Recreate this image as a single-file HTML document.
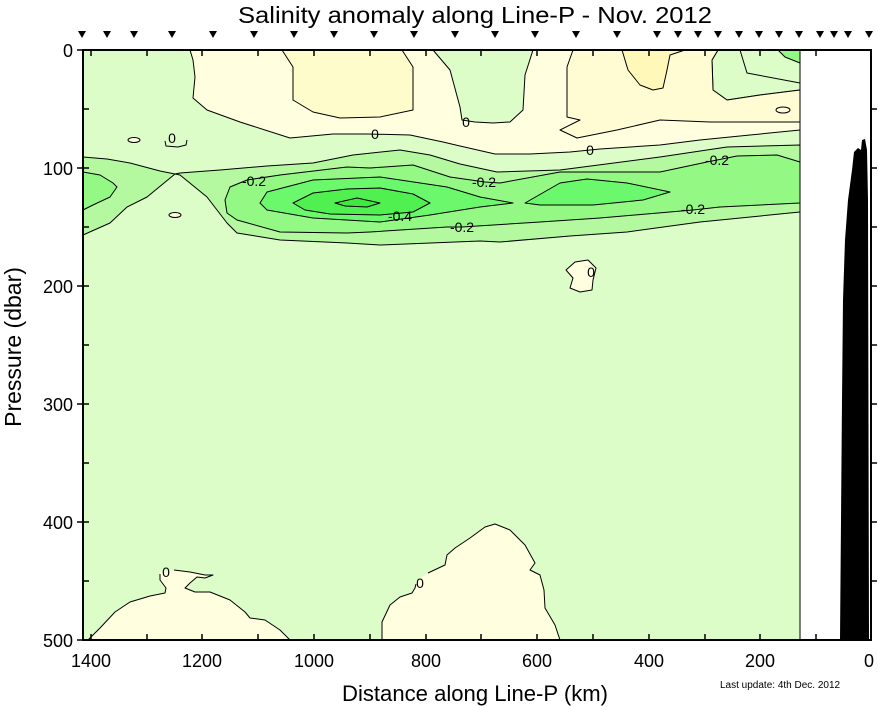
<!DOCTYPE html>
<html><head><meta charset="utf-8"><style>
body{margin:0;background:#fff}
svg{display:block}
text{font-family:"Liberation Sans",sans-serif}
</style></head><body>
<svg width="878" height="708" viewBox="0 0 878 708" xmlns="http://www.w3.org/2000/svg">
<rect width="878" height="708" fill="#fff"/>
<rect x="83" y="50" width="717" height="590" fill="#dcfcc8"/>
<g stroke="#000" stroke-width="1" stroke-linejoin="round">
<path fill="#ffffe0" d="M190,50 L433,50 L450,70 L460,107 L462,120 L475,122 L493,123 L510,122 L523,110 L525,75 L533,50 L718,50 L712,60 L713,90 L727,100 L760,95 L800,90 L800,130 L750,135 L700,140 L660,145 L600,149 L570,152 L530,154 L495,154 L460,146 L443,142 L410,135 L368,134 L333,134 L290,138 L240,122 L207,110 L193,98 L195,77 L193,60 Z"/>
<path fill="#fffccc" d="M282,50 L293,67 L293,100 L313,112 L340,118 L380,117 L413,110 L413,67 L402,50 Z"/>
<path fill="#fffcd4" d="M573,50 L567,67 L567,117 L580,120 L560,130 L577,138 L617,130 L660,120 L710,122 L800,122 L800,90 L760,95 L727,100 L713,90 L712,60 L718,50 Z"/>
<path fill="#fff8b8" d="M622,50 L628,70 L640,85 L653,90 L663,88 L667,70 L670,55 L685,50 Z"/>
<path fill="none" d="M740,50 L747,73 L800,83"/>
<path fill="#94f884" d="M778,50 L785,57 L800,63 L800,50 Z"/>
<path fill="#b4f8a0" d="M83,157 L107,159 L130,163 L160,171 L175,174 L180,173 L220,170 L267,166 L313,163 L353,155 L400,150 L430,155 L460,164 L497,172 L560,170 L660,157 L727,147 L800,145 L800,212 L700,222 L627,232 L570,236 L500,242 L480,241 L380,245 L347,243 L280,240 L237,233 L227,223 L207,197 L180,175 L175,174 L147,197 L127,207 L110,223 L83,235 Z"/>
<path fill="#94f884" d="M83,172 L100,175 L113,183 L117,187 L110,197 L93,205 L83,210 Z"/>
<path fill="#94f884" d="M230,187 L247,180 L280,175 L347,167 L370,168 L413,165 L450,177 L485,182 L500,183 L560,172 L660,172 L707,162 L737,156 L777,155 L800,162 L800,203 L720,207 L693,210 L600,218 L540,222 L462,227 L447,227 L370,232 L347,233 L280,232 L237,220 L227,213 L225,200 Z"/>
<path fill="#6cf86c" d="M260,203 L267,192 L313,180 L380,177 L447,187 L480,197 L513,203 L480,207 L430,215 L380,222 L313,218 L267,210 Z"/>
<path fill="#6cf86c" d="M525,203 L560,183 L587,179 L627,183 L670,192 L643,200 L593,205 L540,205 Z"/>
<path fill="#50f050" d="M293,203 L313,193 L347,189 L380,188 L413,194 L430,203 L413,212 L380,215 L330,214 L305,210 Z"/>
<path fill="#40e840" d="M335,203 L357,198 L380,203 L367,207 L345,206 Z"/>
<ellipse cx="134" cy="140" rx="6" ry="2.5" fill="#ffffe0"/>
<path fill="none" d="M165,141 L166,146 L178,147 L186,145 L187,140"/>
<ellipse cx="175" cy="215" rx="6" ry="2.5" fill="#ffffe0"/>
<ellipse cx="783" cy="110" rx="7" ry="3" fill="#ffffe0"/>
<path fill="#ffffe0" d="M575,262 L588,260 L596,268 L593,280 L592,290 L580,292 L570,288 L573,278 L566,270 Z"/>
<!-- bottom positive -->
<path fill="#ffffe0" stroke="none" d="M88,640 L100,628 L115,612 L130,602 L150,596 L165,593 L166,588 L160,580 L160,572 L175,570 L190,572 L205,575 L213,575 L205,578 L197,577 L190,583 L185,588 L195,592 L210,592 L230,600 L245,612 L250,618 L265,620 L280,630 L290,640 Z"/>
<path fill="none" d="M88,640 L100,628 L115,612 L130,602 L150,596 L165,593 L166,588 L160,580 L160,574"/>
<path fill="none" d="M174,570 L190,572 L205,575 L213,575 L205,578 L197,577 L190,583 L185,588 L195,592 L210,592 L230,600 L245,612 L250,618 L265,620 L280,630 L290,640"/>
<path fill="#ffffe0" stroke="none" d="M382,640 L382,622 L390,605 L400,597 L412,593 L417,580 L428,573 L445,565 L447,555 L455,548 L470,538 L485,527 L495,524 L510,530 L525,545 L535,563 L530,570 L540,575 L544,590 L545,608 L555,625 L560,640 Z"/>
<path fill="none" d="M382,640 L382,622 L390,605 L400,597 L412,593 L415,588 L416,584"/>
<path fill="none" d="M428,573 L445,565 L447,555 L455,548 L470,538 L485,527 L495,524 L510,530 L525,545 L535,563 L530,570 L540,575 L544,590 L545,608 L555,625 L560,640"/>
</g>
<g font-size="14" fill="#000" text-anchor="middle">
<text x="172" y="143">0</text>
<text x="375" y="139">0</text>
<text x="466" y="127">0</text>
<text x="590" y="155">0</text>
<text x="254" y="186">-0.2</text>
<text x="484" y="187">-0.2</text>
<text x="717" y="165">-0.2</text>
<text x="400" y="221">-0.4</text>
<text x="462" y="232">-0.2</text>
<text x="693" y="214">-0.2</text>
<text x="166" y="577">0</text>
<text x="420" y="588">0</text>
<text x="591" y="277">0</text>
</g>
<path fill="#000" d="M840,640 L842,400 L843,300 L845,240 L848,200 L852,170 L854,152 L858,148 L861,150 L862,140 L865,139 L867,150 L868,200 L869,640 Z"/>
<line x1="800" y1="50" x2="800" y2="640" stroke="#000" stroke-width="1"/>
<g stroke="#000" stroke-width="2" fill="none">
<line x1="83" y1="50" x2="83" y2="641"/>
<line x1="82" y1="640" x2="872" y2="640"/>
<line x1="82" y1="50" x2="872" y2="50"/>
<line x1="871" y1="50" x2="871" y2="641"/>
</g>
<g stroke="#000" stroke-width="1.5">
<path d="M91,640v-6M147,640v-6M202,640v-6M258,640v-6M314,640v-6M370,640v-6M426,640v-6M481,640v-6M537,640v-6M593,640v-6M649,640v-6M705,640v-6M760,640v-6M816,640v-6M871,640v-6"/>
<path d="M91,50v6M147,50v6M202,50v6M258,50v6M314,50v6M370,50v6M426,50v6M481,50v6M537,50v6M593,50v6M649,50v6M705,50v6M760,50v6M816,50v6"/>
<path d="M77,50h6M77,168h6M77,286h6M77,404h6M77,522h6M77,640h6"/>
<path d="M83,109h6M83,168h6M83,227h6M83,286h6M83,345h6M83,404h6M83,463h6M83,522h6M83,581h6"/>
<path d="M871,109h6M871,168h6M871,227h6M871,286h6M871,345h6M871,404h6M871,463h6M871,522h6M871,581h6"/>
</g>
<g fill="#000">
<path id="t" d="M78,31 L86,31 L82,38 Z"/>
<use href="#t" x="25"/><use href="#t" x="52"/><use href="#t" x="90"/><use href="#t" x="131"/><use href="#t" x="172"/><use href="#t" x="212"/><use href="#t" x="252"/><use href="#t" x="292"/><use href="#t" x="332"/><use href="#t" x="373"/><use href="#t" x="413"/><use href="#t" x="453"/><use href="#t" x="494"/><use href="#t" x="535"/><use href="#t" x="575"/><use href="#t" x="596"/><use href="#t" x="616"/><use href="#t" x="636"/><use href="#t" x="657"/><use href="#t" x="677"/><use href="#t" x="697"/><use href="#t" x="717"/><use href="#t" x="738"/><use href="#t" x="752"/><use href="#t" x="766"/><use href="#t" x="787"/>
</g>
<g font-size="18" fill="#000" text-anchor="middle">
<text x="91" y="667">1400</text><text x="202" y="667">1200</text><text x="314" y="667">1000</text>
<text x="426" y="667">800</text><text x="537" y="667">600</text><text x="649" y="667">400</text>
<text x="760" y="667">200</text><text x="869" y="667">0</text>
</g>
<g font-size="18" fill="#000" text-anchor="end">
<text x="73" y="57">0</text><text x="73" y="175">100</text><text x="73" y="293">200</text>
<text x="73" y="411">300</text><text x="73" y="529">400</text><text x="73" y="647">500</text>
</g>
<text x="238" y="23" font-size="23" textLength="474" lengthAdjust="spacingAndGlyphs">Salinity anomaly along Line-P - Nov.  2012</text>
<text x="342" y="701" font-size="22" textLength="266" lengthAdjust="spacingAndGlyphs">Distance along Line-P (km)</text>
<text transform="translate(21,347) rotate(-90)" font-size="23" text-anchor="middle">Pressure (dbar)</text>
<text x="720" y="688" font-size="10">Last update: 4th Dec. 2012</text>
</svg>
</body></html>
